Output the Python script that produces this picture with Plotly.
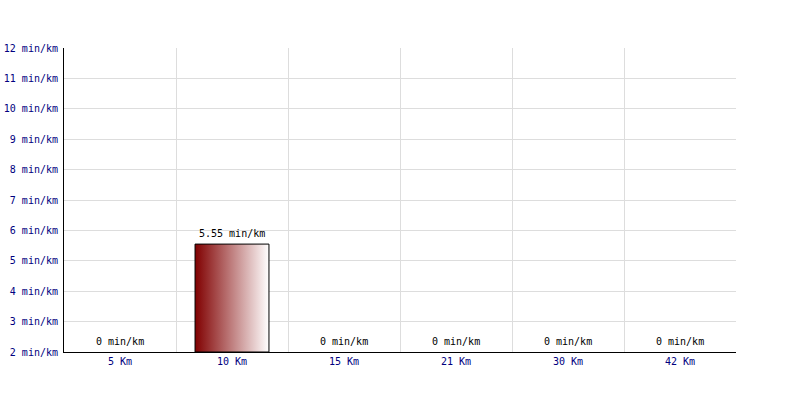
import plotly.graph_objects as go

categories = ["5 Km", "10 Km", "15 Km", "21 Km", "30 Km", "42 Km"]
values = [0, 5.55, 0, 0, 0, 0]
y_ticks = [2, 3, 4, 5, 6, 7, 8, 9, 10, 11, 12]
y_tick_labels = [f"{t} min/km" for t in y_ticks]

Y_MIN, Y_MAX = 2, 12
BAR_W = 0.66
FONT = "DejaVu Sans Mono"

fig = go.Figure()

for i, v in enumerate(values):
    if v > Y_MIN:
        x0, x1 = i - BAR_W / 2, i + BAR_W / 2
        fig.add_trace(go.Scatter(
            x=[x0, x0, x1, x1, x0],
            y=[Y_MIN, v, v, Y_MIN, Y_MIN],
            mode="lines",
            fill="toself",
            fillgradient=dict(type="horizontal",
                              colorscale=[[0, "#800000"], [1, "#ffffff"]]),
            line=dict(color="black", width=1),
            hoverinfo="skip",
            showlegend=False,
        ))

for i, v in enumerate(values):
    fig.add_annotation(
        x=i, y=max(v, Y_MIN), text=f"{v:g} min/km",
        showarrow=False, yanchor="bottom", yshift=3,
        font=dict(family=FONT, size=10, color="black"),
    )

fig.update_layout(
    width=800, height=400,
    margin=dict(l=64, r=64, t=48, b=48, autoexpand=False),
    paper_bgcolor="white", plot_bgcolor="white",
    showlegend=False,
    font=dict(family=FONT, size=10, color="#000080"),
)

fig.update_xaxes(
    range=[-0.5, len(categories) - 0.5],
    tickvals=list(range(len(categories))),
    ticktext=categories,
    showgrid=False,
    minor=dict(tick0=0.5, dtick=1, showgrid=True, gridcolor="#dddddd", gridwidth=1, ticks=""),
    showline=True, linecolor="black", linewidth=1,
    zeroline=False, ticks="", fixedrange=True, automargin=False,
    tickfont=dict(family=FONT, size=10, color="#000080"),
)
fig.update_yaxes(
    range=[Y_MIN, Y_MAX],
    tickvals=y_ticks, ticktext=y_tick_labels,
    showgrid=True, gridcolor="#dddddd", gridwidth=1,
    showline=True, linecolor="black", linewidth=1,
    zeroline=False, ticks="outside", ticklen=3, tickcolor="rgba(0,0,0,0)",
    tickfont=dict(family=FONT, size=10, color="#000080"),
    fixedrange=True, automargin=False,
)

fig.write_html("out.html", config={"displayModeBar": False},
               post_script="document.body.style.margin='0';")
